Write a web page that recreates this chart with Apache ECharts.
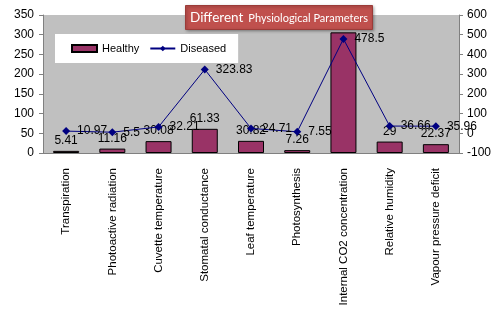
<!DOCTYPE html>
<html>
<head>
<meta charset="utf-8">
<script src="https://cdn.jsdelivr.net/npm/echarts@6/dist/echarts.min.js"></script>
<style>
html,body{margin:0;padding:0;background:#fff;}
#main{width:499px;height:314px;}
</style>
</head>
<body>
<div id="main"></div>
<script>
var categories=['Transpiration','Photoactive radiation','Cuvette temperature','Stomatal conductance','Leaf temperature','Photosynthesis','Internal CO2 concentration','Relative humidity','Vapour pressure deficit'];
var healthy=[5.41,11.16,30.08,61.33,30.82,7.26,306,29,22.37];
var diseased=[10.97,5.5,32.21,323.83,24.71,7.55,478.5,36.66,35.96];
var leftTicks=[0,350,50];
var rightTicks=[-100,600,100];

var myChart=echarts.init(document.getElementById('main'));
var fontFam='"Liberation Sans", Arial, sans-serif';
var option={
	animation:false,
	textStyle:{fontFamily:fontFam},
	title:{
		text:'{a|Different} {b|Physiological Parameters}',
		left:185,
		top:5,
		padding:[4,5,3,5],
		backgroundColor:'#c0504d',
		borderColor:'#9b3b38',
		borderWidth:1,
		shadowColor:'rgba(0,0,0,0.35)',
		shadowBlur:3,
		shadowOffsetX:1,
		shadowOffsetY:1,
		textStyle:{
			fontWeight:'normal',
			rich:{
				a:{fontSize:13.5,color:'#fff',fontWeight:'normal',fontFamily:'Lato, sans-serif'},
				b:{fontSize:11,color:'#fff',fontWeight:'normal',fontFamily:'Lato, sans-serif'}
			}
		}
	},
	legend:{
		left:55,
		top:34,
		orient:'horizontal',
		padding:[9,12,9,16],
		backgroundColor:'#fff',
		itemGap:10,
		itemWidth:25,
		itemHeight:7,
		textStyle:{fontSize:11,color:'#000',fontFamily:fontFam},
		data:[{name:'Healthy',icon:'rect'},{name:'Diseased'}]
	},
	grid:{
		left:43,right:40,top:15,bottom:161,
		outerBoundsMode:'none',
		show:true,backgroundColor:'#c0c0c0',borderWidth:0
	},
	xAxis:{
		type:'category',
		data:categories,
		axisLine:{lineStyle:{color:'#808080'}},
		axisTick:{show:false},
		axisLabel:{rotate:90,interval:0,margin:15,fontSize:11.5,color:'#000',fontFamily:fontFam}
	},
	yAxis:[
		{
			type:'value',min:leftTicks[0],max:leftTicks[1],interval:leftTicks[2],
			name:'Units',nameLocation:'middle',nameGap:33,nameRotate:90,
			nameTextStyle:{fontSize:13,fontWeight:'bold',color:'#000'},
			splitLine:{show:false},
			axisLine:{show:true,lineStyle:{color:'#808080'}},
			axisTick:{show:true,length:4,lineStyle:{color:'#808080'}},
			axisLabel:{fontSize:12,color:'#000',margin:9}
		},
		{
			type:'value',min:rightTicks[0],max:rightTicks[1],interval:rightTicks[2],
			name:'Units',nameLocation:'middle',nameGap:32,nameRotate:90,
			nameTextStyle:{fontSize:13,fontWeight:'bold',color:'#000'},
			splitLine:{show:false},
			axisLine:{show:true,lineStyle:{color:'#808080'}},
			axisTick:{show:true,length:4,lineStyle:{color:'#808080'}},
			axisLabel:{fontSize:12,color:'#000',margin:8}
		}
	],
	series:[
		{
			name:'Healthy',
			type:'bar',
			yAxisIndex:0,
			barWidth:26,
			data:healthy,
			itemStyle:{color:'#993366',borderColor:'#000',borderWidth:1},
			label:{show:true,position:'top',distance:4,fontSize:12,color:'#000'}
		},
		{
			name:'Diseased',
			type:'line',
			yAxisIndex:1,
			data:diseased,
			symbol:'diamond',
			symbolSize:8,
			lineStyle:{color:'#000080',width:1},
			itemStyle:{color:'#000080'},
			label:{show:true,position:'right',distance:7,fontSize:12,color:'#000'}
		}
	]
};
myChart.setOption(option);
</script>
</body>
</html>
